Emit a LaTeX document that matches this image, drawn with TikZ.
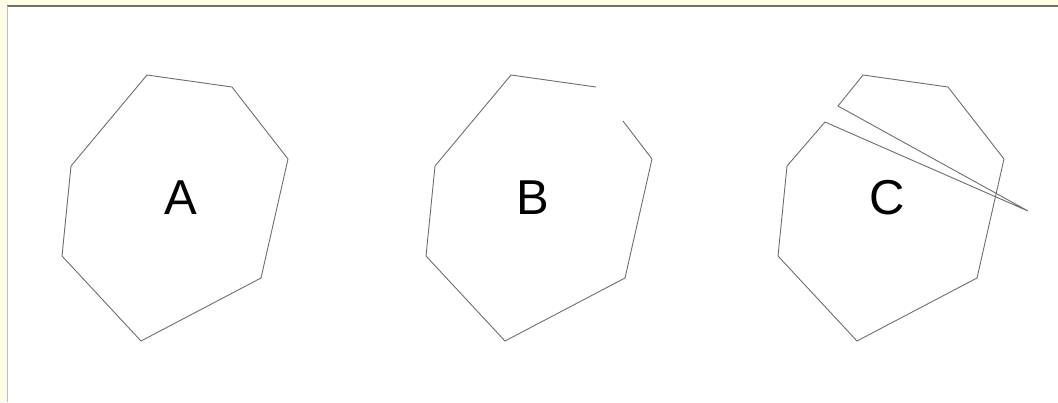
\documentclass[tikz,border=0pt]{standalone}
\usepackage{fontspec}
\setmainfont{Liberation Sans}
\definecolor{cream}{HTML}{FFFDE6}
\definecolor{topframe}{HTML}{707062}
\definecolor{leftframe}{HTML}{BDBDBD}
\definecolor{edge}{HTML}{6E6E6E}
\begin{document}
\begin{tikzpicture}[x=1pt,y=-1pt,
  outline/.style={draw=edge,line width=0.9pt,line join=miter},
  letter/.style={font=\fontsize{49}{49}\selectfont,text=black,inner sep=0pt}]
\useasboundingbox (0,0) rectangle (1058,402);
\fill[cream] (0,0) rectangle (1058,402);
\fill[white] (7,6) rectangle (1058,402);
\draw[topframe,line width=1.2pt] (7,6) -- (1058,6);
\draw[leftframe,line width=1.2pt] (7.5,6) -- (7.5,402);
% A
\draw[outline] (147,75) -- (232,87) -- (288,159) -- (261,278) -- (141,341) -- (62,256) -- (71,166) -- cycle;
\node[letter] (la) at (181,198) {A};
% B (open: gap after vertex 2)
\draw[outline] (623,121) -- (652,159) -- (625,278) -- (505,341) -- (426,256) -- (435,166) -- (511,75) -- (596,87);
\node[letter] (lb) at (533,198) {B};
% C (wedge cut)
\draw[outline] (838,106) -- (863,75) -- (948,87) -- (1004,159) -- (977,278) -- (857,341) -- (778,256) -- (787,166) -- (825,122) -- (1028,211) -- cycle;
\node[letter] (lc) at (887,198) {C};
\end{tikzpicture}
\end{document}
